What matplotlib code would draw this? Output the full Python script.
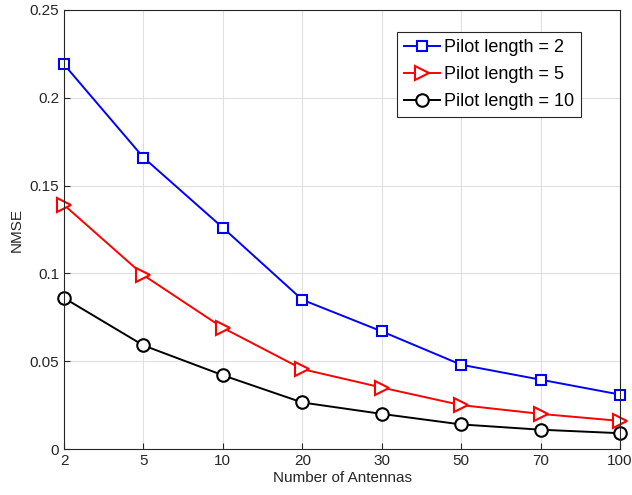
import numpy as np
import matplotlib.pyplot as plt

plt.rcParams['font.family'] = ['Liberation Sans', 'DejaVu Sans']

antennas = ['2', '5', '10', '20', '30', '50', '70', '100']
nmse_p2 = [0.219, 0.166, 0.126, 0.085, 0.067, 0.048, 0.0395, 0.031]
nmse_p5 = [0.139, 0.099, 0.069, 0.0455, 0.035, 0.025, 0.020, 0.016]
nmse_p10 = [0.086, 0.059, 0.042, 0.0265, 0.020, 0.014, 0.011, 0.009]

x = np.arange(len(antennas))

fig = plt.figure(figsize=(6.32, 4.95), dpi=100)
ax = fig.add_axes([0.1013, 0.0929, 0.8797, 0.8869])

ax.plot(x, nmse_p2, color='blue', marker='s', mfc='white', ms=7.5, mew=1.5, lw=1.4,
        clip_on=False, label='Pilot length = 2')
ax.plot(x, nmse_p5, color='red', marker='>', mfc='white', ms=10, mew=1.5, lw=1.4,
        clip_on=False, label='Pilot length = 5')
ax.plot(x, nmse_p10, color='black', marker='o', mfc='white', ms=9, mew=1.5, lw=1.4,
        clip_on=False, label='Pilot length = 10')

ax.set_xlim(0, len(antennas) - 1)
ax.set_ylim(0, 0.25)
ax.set_xticks(x)
ax.set_xticklabels(antennas)
ax.set_yticks([0, 0.05, 0.1, 0.15, 0.2, 0.25])
ax.set_yticklabels(['0', '0.05', '0.1', '0.15', '0.2', '0.25'])
ax.tick_params(direction='in', labelsize=11, colors='#262626', length=4)
for s in ax.spines.values():
    s.set_color('#262626')
    s.set_linewidth(0.8)
ax.grid(True, color='#e0e0e0', lw=0.8)
ax.set_axisbelow(True)

ax.set_xlabel('Number of Antennas', fontsize=11, color='#262626', labelpad=2)
ax.set_ylabel('NMSE', fontsize=11, color='#262626', labelpad=4)

leg = ax.legend(loc='upper right', bbox_to_anchor=(0.93, 0.95), fontsize=13, fancybox=False,
                framealpha=1, edgecolor='#262626', handlelength=2.0, handletextpad=0.2,
                borderpad=0.4, labelspacing=0.55, borderaxespad=0)
leg.get_frame().set_linewidth(0.8)

fig.savefig('out.png', dpi=100)
